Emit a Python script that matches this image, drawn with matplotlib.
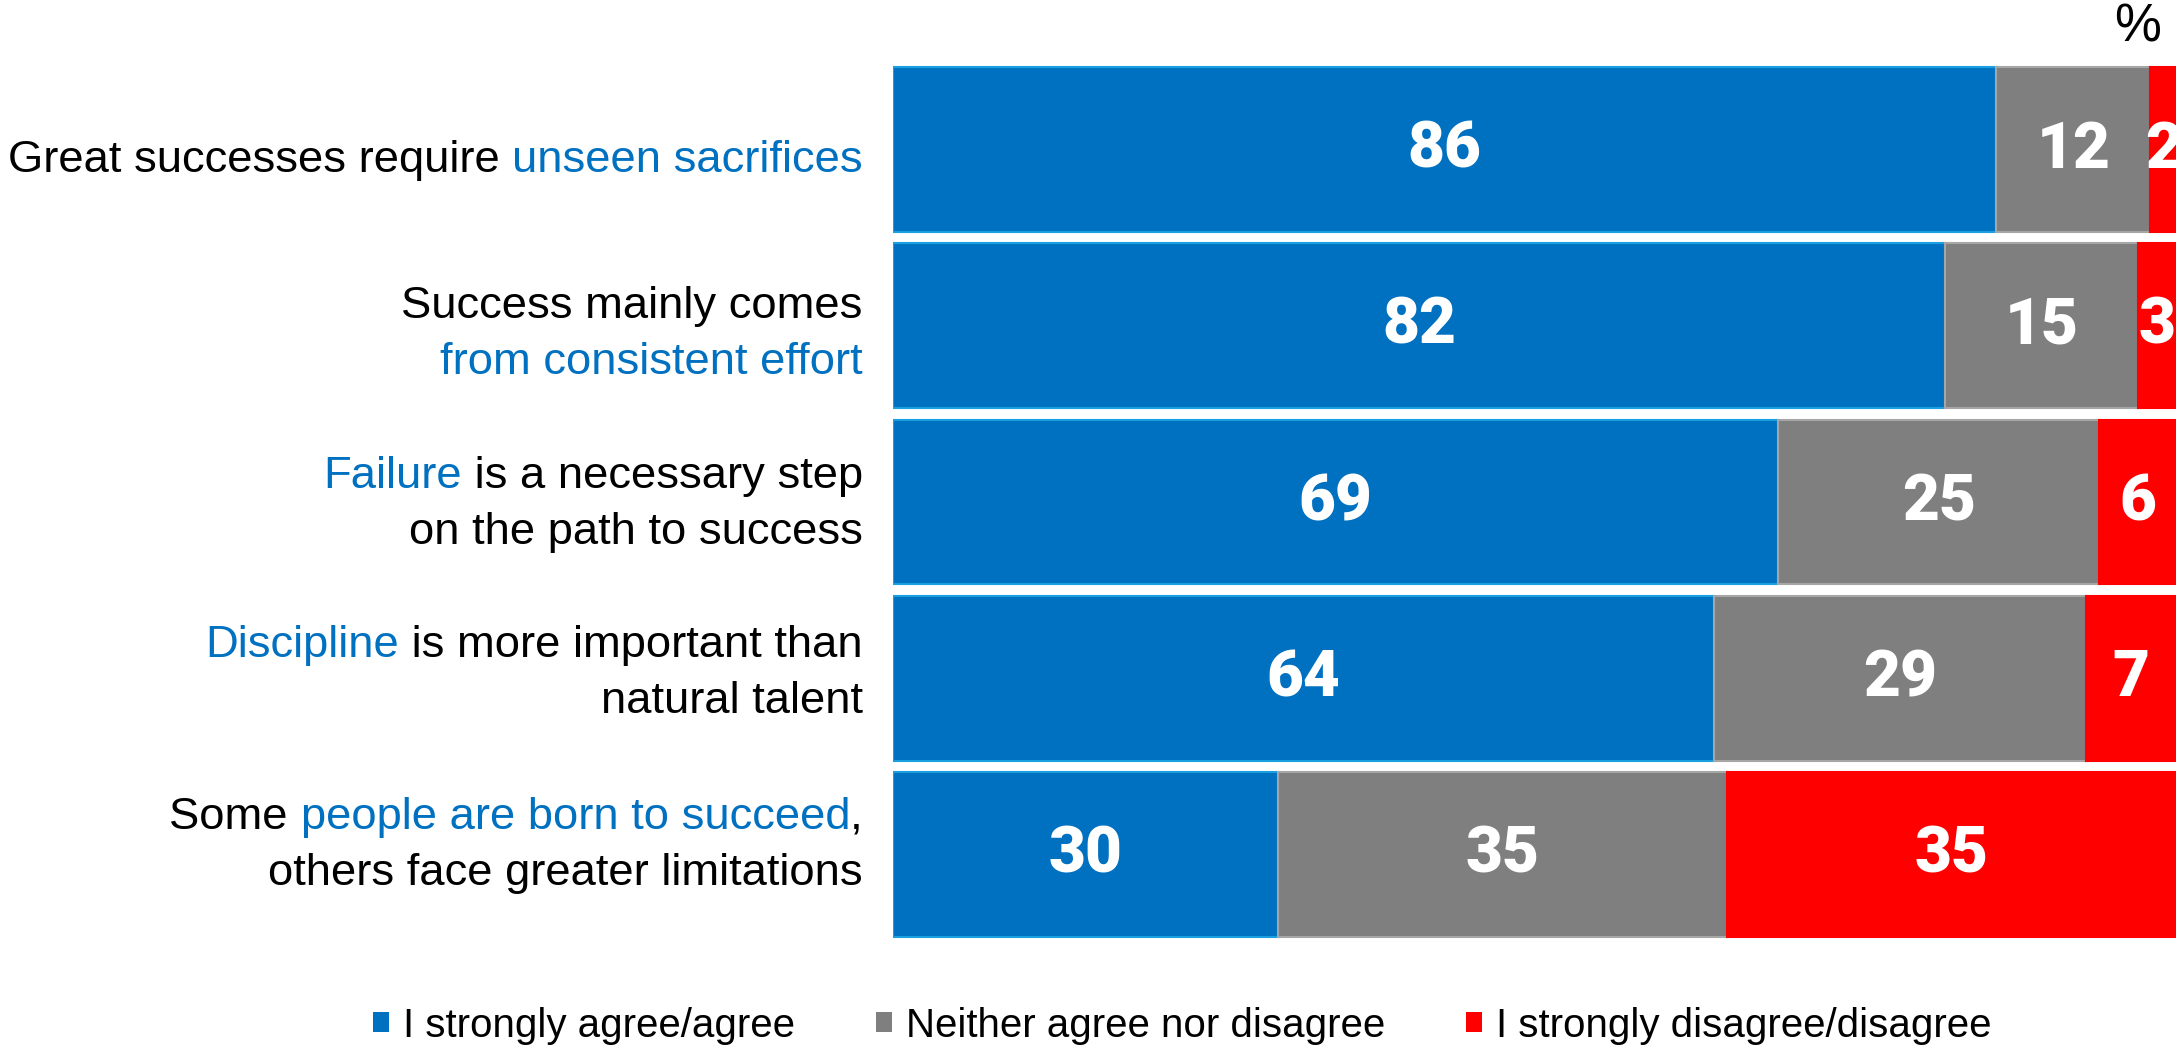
import matplotlib
matplotlib.use("Agg")
import matplotlib.pyplot as plt
from matplotlib import transforms
from matplotlib.patches import Patch
import numpy as np

# data
statements = [
    [[("Great successes require ", False), ("unseen sacrifices", True)]],
    [[("Success mainly comes", False)], [("from consistent effort", True)]],
    [[("Failure", True), (" is a necessary step", False)], [("on the path to success", False)]],
    [[("Discipline", True), (" is more important than", False)], [("natural talent", False)]],
    [[("Some ", False), ("people are born to succeed", True), (",", False)],
     [("others face greater limitations", False)]],
]
agree = [86, 82, 69, 64, 30]
neutral = [12, 15, 25, 29, 35]
disagree = [2, 3, 6, 7, 35]
series_names = ["I strongly agree/agree", "Neither agree nor disagree", "I strongly disagree/disagree"]

BLUE, GREY, RED = "#0070c0", "#7f7f7f", "#ff0000"
EDGES = ["#1a9fe0", "#a6a6a6", "#ff0000"]
LABEL_FONT = "Liberation Sans"
NUM_FONT = ["Roboto", "DejaVu Sans"]

# vertical nudge (px, downwards) of each label block relative to its bar centre
label_shift = [22.5, 20, 13.5, 7, 2.5]
half_gap = 28

fig = plt.figure(figsize=(21.76, 10.52), dpi=100)
ax = fig.add_axes([0.4104, 0.1040, 0.5896, 0.8376])

y = np.arange(len(agree))
left = np.zeros(len(agree))
for vals, col, edge in zip([agree, neutral, disagree], [BLUE, GREY, RED], EDGES):
    vals = np.array(vals, dtype=float)
    ax.barh(y, vals, left=left, height=0.936, color=col, edgecolor=edge, linewidth=1.5)
    for yi, v, l in zip(y, vals, left):
        ax.text(l + v / 2, yi, f"{v:.0f}", ha="center", va="center", color="white",
                fontsize=46, fontweight=900, family=NUM_FONT)
    left += vals

ax.set_xlim(0, 100)
ax.set_ylim(len(agree) - 0.5, -0.5)
ax.axis("off")

# row labels with coloured fragments, right aligned next to the bars
renderer = fig.canvas.get_renderer()
lab_kw = dict(fontsize=32.7, family=LABEL_FONT)


def width_px(s):
    t = fig.text(0, 0, s, **lab_kw)
    w = t.get_window_extent(renderer).width
    t.remove()
    return w


base_w = width_px("II")
trans = transforms.blended_transform_factory(fig.transFigure, ax.transData)
x_right = 0.3965
for i, lines in enumerate(statements):
    if len(lines) == 1:
        offsets = [-label_shift[i]]
    else:
        offsets = [half_gap - label_shift[i], -half_gap - label_shift[i]]
    for line, dy in zip(lines, offsets):
        widths = [width_px("I" + s + "I") - base_w for s, _ in line]
        x = -sum(widths)
        for (s, hl), w in zip(line, widths):
            tr = transforms.offset_copy(trans, fig=fig, x=x, y=dy, units="dots")
            fig.text(x_right, i, s, transform=tr, ha="left", va="baseline",
                     color=BLUE if hl else "black", **lab_kw)
            x += w

fig.text(0.9825, 0.974, "%", ha="center", va="center", fontsize=38, family=LABEL_FONT)

handles = [Patch(facecolor=c, edgecolor="none") for c in [BLUE, GREY, RED]]
fig.legend(handles, series_names, loc="center", bbox_to_anchor=(0.5434, 0.025), ncol=3,
           frameon=False, prop={"family": LABEL_FONT, "size": 29},
           handlelength=0.4, handleheight=0.4, handletextpad=0.35, columnspacing=2.0,
           borderpad=0, borderaxespad=0)

fig.savefig("out.png", dpi=100)
